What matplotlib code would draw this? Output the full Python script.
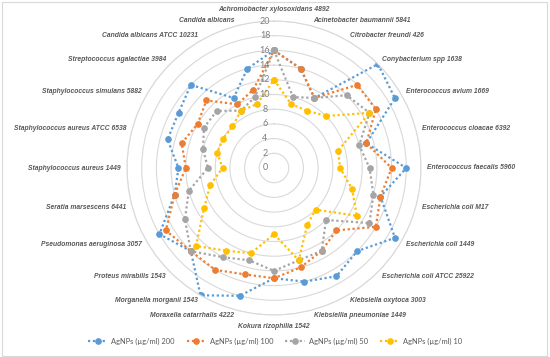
import numpy as np
import matplotlib
matplotlib.use("Agg")
import matplotlib.pyplot as plt
from matplotlib.patches import Rectangle
from matplotlib.transforms import offset_copy

categories = [
    "Achromobacter xylosoxidans 4892",
    "Acinetobacter baumannii 5841",
    "Citrobacter freundi 426",
    "Conybacterium spp 1638",
    "Enterococcus avium 1669",
    "Enterococcus cloacae 6392",
    "Enterococcus faecalis 5960",
    "Escherichia coli M17",
    "Escherichia coli 1449",
    "Escherichia coli ATCC 25922",
    "Klebsiella oxytoca 3003",
    "Klebsiellia pneumoniae 1449",
    "Kokura rizophilia 1542",
    "Moraxella catarrhalis 4222",
    "Morganella morganii 1543",
    "Proteus mirabilis 1543",
    "Pseudomonas aeruginosa 3057",
    "Seratia marsescens 6441",
    "Staphylococcus aureus 1449",
    "Staphylococcus aureus ATCC 6538",
    "Staphylococcus simulans 5882",
    "Streptococcus agalactiae 3984",
    "Candida albicans ATCC 10231",
    "Candida albicans",
]

agnps_200 = [16, 14, 11, 20, 19, 13, 18, 15, 19, 16, 17, 16, 15, 18, 20, 16, 18, 14, 13, 15, 15, 16, 11, 14]
agnps_100 = [16, 14, 11, 16, 16, 13, 16, 15, 16, 12, 13, 14, 15, 15, 16, 16, 17, 14, 12, 13, 12, 13, 10, 11]
agnps_50 = [16, 10, 11, 14, 15, 12, 13, 14, 15, 10, 13, 13, 14, 13, 14, 16, 14, 12, 9, 10, 11, 11, 9, 10]
agnps_10 = [12, 9, 9, 10, 15, 9, 9, 11, 13, 8, 9, 13, 9, 12, 13, 15, 11, 9, 7, 8, 8, 8, 9, 9]

series_labels = ["AgNPs (µg/ml) 200", "AgNPs (µg/ml) 100", "AgNPs (µg/ml) 50", "AgNPs (µg/ml) 10"]
colors = ["#5B9BD5", "#ED7D31", "#A5A5A5", "#FFC000"]
r_ticks = list(range(0, 21, 2))

font = ["Lato", "Liberation Sans", "DejaVu Sans"]
label_font = ["Liberation Sans", "DejaVu Sans"]

W, H = 550, 357
fig = plt.figure(figsize=(W / 100, H / 100), dpi=100)
fig.patches.append(Rectangle((0.003, 0.004), 0.992, 0.99, transform=fig.transFigure,
                             fill=False, edgecolor="#D9D9D9", linewidth=0.8))

cx, cy, rad = 274, 168, 147
ax = fig.add_axes([(cx - rad) / W, (H - cy - rad) / H, 2 * rad / W, 2 * rad / H], polar=True)
ax.set_theta_zero_location("N")
ax.set_theta_direction(-1)
ax.set_ylim(0, 20)
ax.set_facecolor("none")

n = len(categories)
angles = np.arange(n) * 2 * np.pi / n
closed = np.append(angles, angles[0])

for vals, lab, col in zip([agnps_200, agnps_100, agnps_50, agnps_10], series_labels, colors):
    v = np.append(vals, vals[0])
    ax.plot(closed, v, color=col, linestyle=(0, (1, 1.2)), linewidth=1.6,
            marker="o", markersize=3.8, label=lab)

# grid
ax.set_xticks(angles)
ax.set_xticklabels([])
ax.xaxis.grid(False)
ax.set_yticks(r_ticks)
ax.set_yticklabels([])
ax.yaxis.grid(True, color="#D9D9D9", linewidth=0.8)
ax.spines["polar"].set_color("#D9D9D9")
ax.spines["polar"].set_linewidth(0.8)
ax.tick_params(length=0)

# radial labels
tr = offset_copy(ax.transData, fig=fig, x=-9, y=0, units="dots")
for v in r_ticks:
    ax.text(0, v, str(v), transform=tr, ha="center", va="center",
            fontsize=6.5, color="#7F7F7F", family=font)

# category labels
for a, name in zip(angles, categories):
    s = np.sin(a)
    if abs(s) < 1e-6:
        ha, r = "center", 21.5
    elif s > 0:
        ha, r = "left", 20.8
    else:
        ha, r = "right", 20.8
    ax.text(a, r, name, ha=ha, va="center", fontsize=4.9, fontweight="bold",
            fontstyle="italic", color="#595959", family=label_font)

fig.legend(loc="center", bbox_to_anchor=(0.5, 1 - 341 / H), ncol=4, frameon=False,
           prop={"family": font, "size": 5.4}, labelcolor="#595959",
           handlelength=2.6, columnspacing=1.6, handletextpad=0.5)

fig.savefig("out.png", dpi=100)
